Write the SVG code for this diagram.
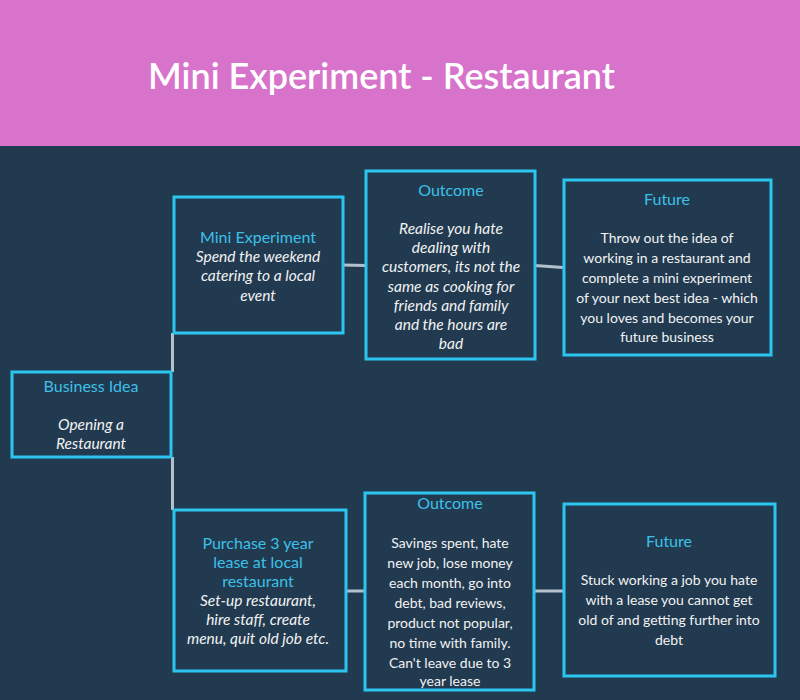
<svg xmlns="http://www.w3.org/2000/svg" width="800" height="700" viewBox="0 0 800 700">
<style>
  .box { fill: #213A50; stroke: #2CC5F0; stroke-width: 3; }
  .conn { stroke: #B4C0CC; stroke-width: 3; fill: none; }
  text { font-family: Lato, "Open Sans", "Liberation Sans", sans-serif; text-anchor: middle; }
  .hd { fill: #3DC0E8; font-size: 16px; }
  .it { fill: #F2F2F2; font-size: 15.5px; font-style: italic; }
  .tx { fill: #F2F2F2; font-size: 14px; }
</style>
<rect x="0" y="0" width="800" height="700" fill="#213A50"/>
<rect x="0" y="0" width="800" height="146" fill="#D873CC"/>
<text x="381.5" y="89" fill="#FFFFFF" font-size="36" font-weight="600">Mini Experiment - Restaurant</text>

<g id="connectors">
  <line class="conn" x1="172.5" y1="333" x2="172.5" y2="372"/>
  <line class="conn" x1="172.5" y1="457" x2="172.5" y2="510"/>
  <line class="conn" x1="343" y1="265" x2="366" y2="265.5"/>
  <line class="conn" x1="535" y1="265.5" x2="563" y2="267.5"/>
  <line class="conn" x1="346" y1="591" x2="365" y2="591"/>
  <line class="conn" x1="535" y1="591" x2="563" y2="591"/>
</g>

<g id="business-idea">
  <rect class="box" x="12" y="372" width="159" height="85"/>
  <text class="hd" x="91" y="392">Business Idea</text>
  <text class="it" x="91" y="430">Opening a</text>
  <text class="it" x="91" y="449">Restaurant</text>
</g>

<g id="mini-experiment">
  <rect class="box" x="174" y="197" width="169" height="136"/>
  <text class="hd" x="258" y="243">Mini Experiment</text>
  <text class="it" x="258" y="262">Spend the weekend</text>
  <text class="it" x="258" y="281">catering to a local</text>
  <text class="it" x="258" y="301">event</text>
</g>

<g id="outcome-1">
  <rect class="box" x="366" y="171" width="169" height="188"/>
  <text class="hd" x="451" y="196">Outcome</text>
  <text class="it" x="451" y="234">Realise you hate</text>
  <text class="it" x="451" y="253">dealing with</text>
  <text class="it" x="451" y="272">customers, its not the</text>
  <text class="it" x="451" y="292">same as cooking for</text>
  <text class="it" x="451" y="311">friends and family</text>
  <text class="it" x="451" y="330">and the hours are</text>
  <text class="it" x="451" y="349">bad</text>
</g>

<g id="future-1">
  <rect class="box" x="564" y="180" width="207" height="175"/>
  <text class="hd" x="667" y="205">Future</text>
  <text class="tx" x="667" y="243">Throw out the idea of</text>
  <text class="tx" x="667" y="263">working in a restaurant and</text>
  <text class="tx" x="667" y="283">complete a mini experiment</text>
  <text class="tx" x="667" y="303">of your next best idea - which</text>
  <text class="tx" x="667" y="323">you loves and becomes your</text>
  <text class="tx" x="667" y="342">future business</text>
</g>

<g id="purchase-lease">
  <rect class="box" x="174" y="510" width="172" height="161"/>
  <text class="hd" x="258" y="549">Purchase 3 year</text>
  <text class="hd" x="258" y="568">lease at local</text>
  <text class="hd" x="258" y="587">restaurant</text>
  <text class="it" x="258" y="606">Set-up restaurant,</text>
  <text class="it" x="258" y="625">hire staff, create</text>
  <text class="it" x="258" y="644">menu, quit old job etc.</text>
</g>

<g id="outcome-2">
  <rect class="box" x="365" y="493" width="169" height="197"/>
  <text class="hd" x="450" y="509">Outcome</text>
  <text class="tx" x="450" y="548">Savings spent, hate</text>
  <text class="tx" x="450" y="568">new job, lose money</text>
  <text class="tx" x="450" y="588">each month, go into</text>
  <text class="tx" x="450" y="608">debt, bad reviews,</text>
  <text class="tx" x="450" y="628">product not popular,</text>
  <text class="tx" x="450" y="648">no time with family.</text>
  <text class="tx" x="450" y="668">Can't leave due to 3</text>
  <text class="tx" x="450" y="686">year lease</text>
</g>

<g id="future-2">
  <rect class="box" x="564" y="504" width="211" height="172"/>
  <text class="hd" x="669" y="547">Future</text>
  <text class="tx" x="669" y="585">Stuck working a job you hate</text>
  <text class="tx" x="669" y="605">with a lease you cannot get</text>
  <text class="tx" x="669" y="625">old of and getting further into</text>
  <text class="tx" x="669" y="645">debt</text>
</g>
</svg>
